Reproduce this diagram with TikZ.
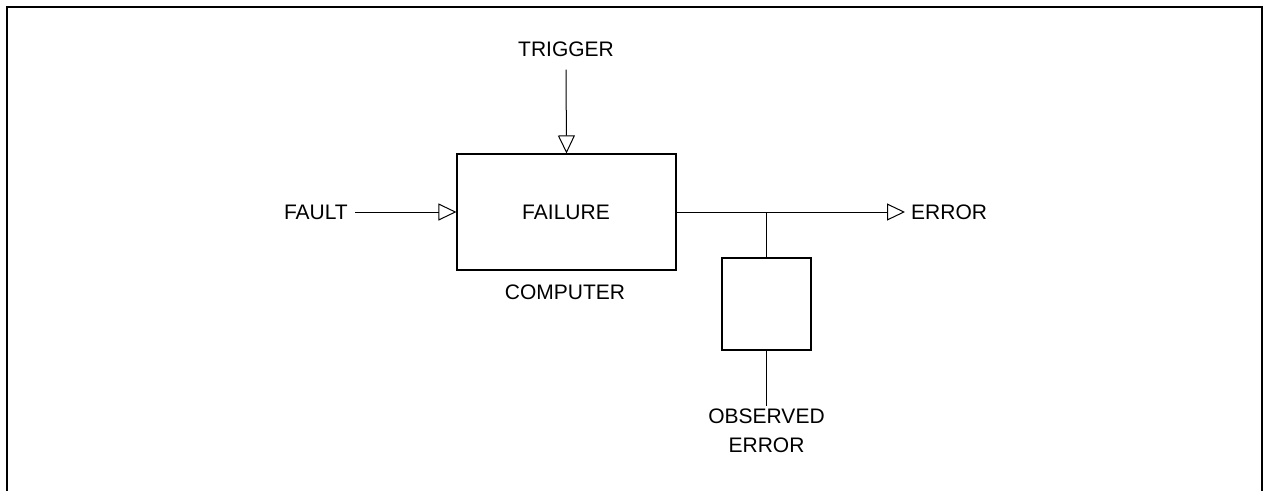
\documentclass[tikz,border=0pt]{standalone}
\usepackage{fontspec}
\setmainfont{Liberation Sans}
\usetikzlibrary{arrows.meta}
\begin{document}
\begin{tikzpicture}[x=1pt,y=-1pt,
  lbl/.style={font=\fontsize{21}{29}\selectfont, inner sep=3pt, align=center},
  blk/.style={draw, line width=1.1pt, inner sep=0pt},
  wire/.style={line width=1pt},
  oarrow/.style={wire, -{Triangle[open, length=18pt, width=17pt, line width=1pt]}}
]
\useasboundingbox (0,0) rectangle (1265,491);
% frame
\draw[line width=2.5pt] (7,491) -- (7,7) -- (1262,7) -- (1262,491);
% blocks
\node[blk, minimum width=219pt, minimum height=116pt] (comp) at (566.5,212) {};
\node[lbl] (failure) at (566,212) {FAILURE};
\node[lbl, anchor=north] (computer) at (565,282) {COMPUTER};
\node[blk, minimum width=89pt, minimum height=92pt] (obs) at (766.5,304) {};
% texts
\node[lbl] (trig) at (566,49) {TRIGGER};
\node[lbl, anchor=east, inner xsep=7pt] (fault) at (355,212) {FAULT};
\node[lbl, anchor=west, inner xsep=6pt] (err) at (905,212) {ERROR};
\node[lbl, anchor=north] (oerr) at (766.5,406) {OBSERVED\\ERROR};
% connectors
\coordinate (j) at (obs.north |- comp.east);
\path (trig.south) ++(0,10) coordinate (t0);
\draw[oarrow] (t0) -- (comp.north);
\draw[oarrow] (fault.east) -- (comp.west);
\draw[oarrow] (comp.east) -- (err.west);
\draw[wire] (j) -- (obs.north);
\draw[wire] (obs.south) -- (oerr.north);
\end{tikzpicture}
\end{document}
